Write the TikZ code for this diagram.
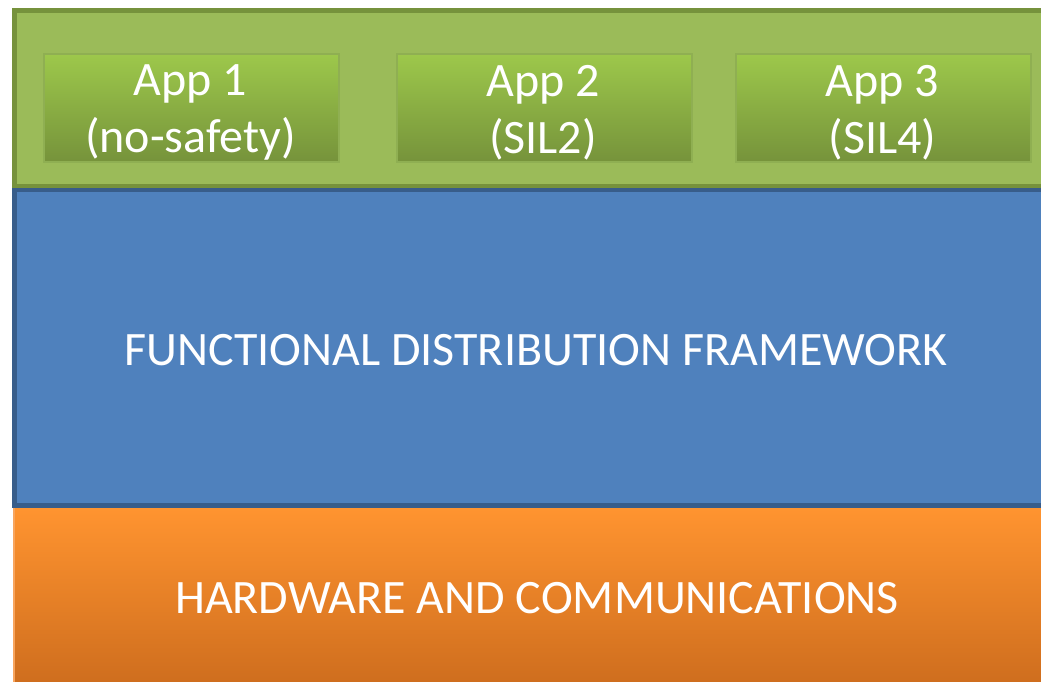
\documentclass[tikz,border=0pt]{standalone}
\usepackage{fontspec}
\setmainfont{Carlito}
\definecolor{greenfill}{HTML}{9BBB59}
\definecolor{greenline}{HTML}{76923C}
\definecolor{apptop}{HTML}{9DC84B}
\definecolor{appbot}{HTML}{76933B}
\definecolor{appedge}{HTML}{8FAF52}
\definecolor{bluefill}{HTML}{4F81BD}
\definecolor{blueline}{HTML}{385D8A}
\definecolor{orangetop}{HTML}{FF9430}
\definecolor{orangebot}{HTML}{CF6E1E}
\definecolor{orangeedge}{HTML}{F8A55E}
\tikzset{
  layertext/.style={text=white, font=\fontsize{48}{57}\selectfont, inner sep=0pt},
  appbox/.style={draw=appedge, line width=1.5pt, top color=apptop, bottom color=appbot, minimum width=295pt, minimum height=108pt, inner sep=0pt, anchor=north west},
}
\begin{document}
\begin{tikzpicture}[x=1pt,y=-1pt]
\useasboundingbox (0,0) rectangle (1041,681);
\clip (0,0) rectangle (1041,681);
% application layer
\draw[greenline, fill=greenfill, line width=5pt] (14.5,10.5) rectangle (1062,186.5);
% framework layer
\draw[blueline, fill=bluefill, line width=4.5pt] (14.25,190) rectangle (1062,505.5);
% hardware layer
\shade[top color=orangetop, bottom color=orangebot] (13,508) rectangle (1062,682);
\draw[orangeedge, line width=2pt] (14,508) -- (14,682);
% application boxes
\node[appbox] (app1) at (43,53) {};
\node[appbox] (app2) at (396,53) {};
\node[appbox] (app3) at (735,53) {};
\node[layertext, align=center] (t1) at (190.5,112.5) {App 1\\(no-safety)};
\node[layertext, align=center] (t2) at (543,112.5) {App 2\\(SIL2)};
\node[layertext, align=center] (t3) at (882.5,112.5) {App 3\\(SIL4)};
% layer labels
\node[layertext, anchor=base] (fdf) at (536,365) {FUNCTIONAL DISTRIBUTION FRAMEWORK};
\node[layertext, anchor=base] (hw) at (537,613) {HARDWARE AND COMMUNICATIONS};
\end{tikzpicture}
\end{document}
